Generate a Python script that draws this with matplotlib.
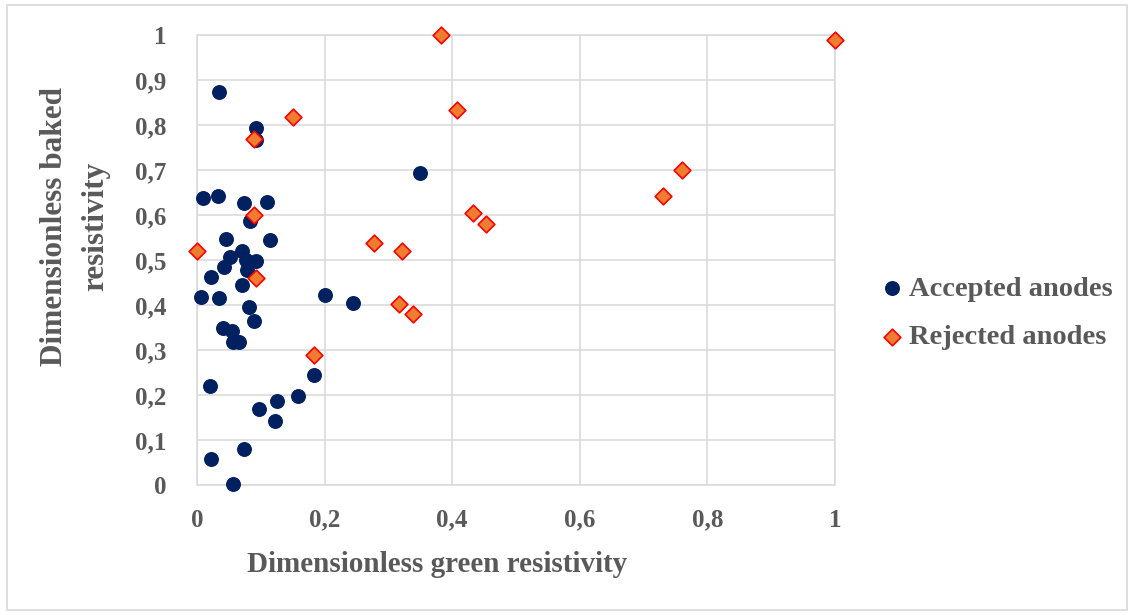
import matplotlib.pyplot as plt
from matplotlib.patches import Rectangle

# accepted anodes (green, baked) dimensionless resistivity
acc_green = [0.034, 0.093, 0.093, 0.009, 0.033, 0.073, 0.110, 0.083, 0.045, 0.114,
             0.071, 0.051, 0.077, 0.092, 0.042, 0.078, 0.022, 0.071, 0.007, 0.035,
             0.201, 0.244, 0.082, 0.089, 0.041, 0.055, 0.057, 0.066, 0.184, 0.021,
             0.158, 0.125, 0.097, 0.122, 0.074, 0.022, 0.057, 0.349]
acc_baked = [0.873, 0.793, 0.767, 0.637, 0.643, 0.627, 0.630, 0.587, 0.546, 0.544,
             0.521, 0.507, 0.500, 0.498, 0.485, 0.478, 0.463, 0.444, 0.418, 0.415,
             0.422, 0.405, 0.395, 0.364, 0.350, 0.343, 0.318, 0.318, 0.244, 0.219,
             0.198, 0.187, 0.169, 0.143, 0.081, 0.057, 0.002, 0.694]

# rejected anodes
rej_green = [0.382, 0.408, 0.150, 0.090, 0.090, 0.000, 0.093, 0.183, 0.277,
             0.321, 0.317, 0.339, 0.433, 0.453, 0.730, 0.760, 1.000]
rej_baked = [1.000, 0.833, 0.817, 0.770, 0.600, 0.520, 0.461, 0.289, 0.538,
             0.521, 0.402, 0.381, 0.605, 0.581, 0.642, 0.699, 0.989]

x_ticks = [0, 0.2, 0.4, 0.6, 0.8, 1]
y_ticks = [0, 0.1, 0.2, 0.3, 0.4, 0.5, 0.6, 0.7, 0.8, 0.9, 1]

plt.rcParams['font.family'] = ['Liberation Serif', 'DejaVu Serif']
plt.rcParams['font.weight'] = 'bold'
grey = '#595959'

fig = plt.figure(figsize=(11.34, 6.15), dpi=100)
ax = fig.add_axes([197 / 1134, 130 / 615, 638 / 1134, 450 / 615])

ax.scatter(acc_green, acc_baked, s=95, color='#002060', zorder=3, clip_on=False,
           label='Accepted anodes')
ax.scatter(rej_green, rej_baked, s=72, marker='D', facecolor='#ED7D31',
           edgecolor='#FF0000', linewidth=1.2, zorder=4, clip_on=False,
           label='Rejected anodes')

ax.set_xlim(0, 1)
ax.set_ylim(0, 1)
ax.set_xticks(x_ticks)
ax.set_yticks(y_ticks)
ax.set_xticklabels([f'{t:g}'.replace('.', ',') for t in x_ticks])
ax.set_yticklabels([f'{t:g}'.replace('.', ',') for t in y_ticks])
ax.tick_params(length=0, labelsize=18, labelcolor=grey)
ax.tick_params(axis='x', pad=17)
ax.tick_params(axis='y', pad=22)
for lab in ax.get_xticklabels() + ax.get_yticklabels():
    lab.set_fontweight('bold')

ax.grid(True, color='#D9D9D9', linewidth=1.1)
ax.set_axisbelow(True)
for sp in ax.spines.values():
    sp.set_color('#D9D9D9')
    sp.set_linewidth(1.1)

fig.text(437 / 1134, 1 - 564 / 615, 'Dimensionless green resistivity',
         ha='center', va='center', fontsize=21, color=grey, fontweight='bold')
fig.text(75 / 1134, 1 - 226 / 615, 'Dimensionless baked\nresistivity',
         ha='center', va='center', rotation=90, fontsize=22.5, color=grey,
         fontweight='bold', multialignment='center', linespacing=1.55)

leg = ax.legend(loc='center left', bbox_to_anchor=(852 / 1134, 1 - 313 / 615),
                bbox_transform=fig.transFigure, frameon=False,
                handletextpad=0.1, labelspacing=0.8, handlelength=1.0,
                prop={'weight': 'bold', 'size': 20.5})
for t in leg.get_texts():
    t.set_color(grey)

fig.patches.append(Rectangle((0.006, 0.008), 0.988, 0.984, transform=fig.transFigure,
                             fill=False, edgecolor='#D9D9D9', linewidth=1.2))

fig.savefig('out.png', dpi=100)
